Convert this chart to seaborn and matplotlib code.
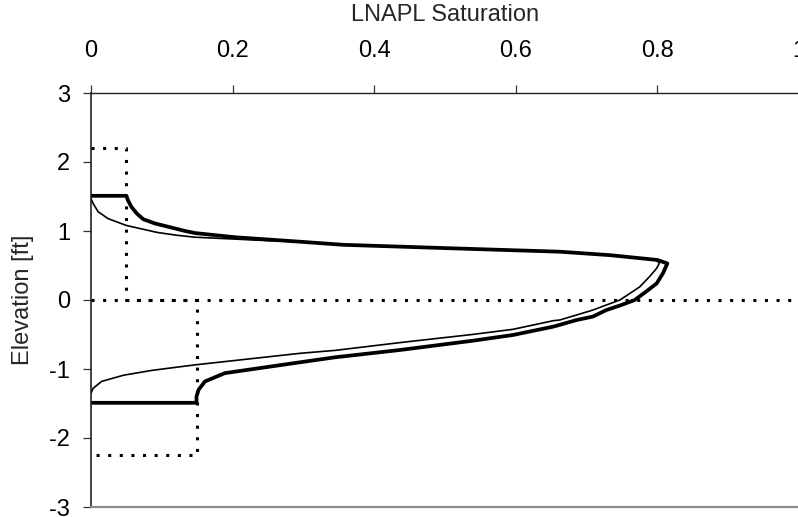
import matplotlib
matplotlib.use("Agg")
import matplotlib.pyplot as plt
import seaborn as sns
import pandas as pd

# LNAPL saturation profiles versus elevation
sat_thick = [0.0, 0.050, 0.052, 0.057, 0.065, 0.074, 0.090, 0.133, 0.147, 0.203,
             0.295, 0.356, 0.507, 0.600, 0.662, 0.733, 0.800, 0.814, 0.808, 0.799,
             0.787, 0.768, 0.747, 0.728, 0.709, 0.686, 0.662, 0.653, 0.596, 0.540,
             0.436, 0.345, 0.295, 0.189, 0.161, 0.152, 0.149, 0.149, 0.0]
elev_thick = [1.51, 1.51, 1.45, 1.35, 1.25, 1.17, 1.11, 1.00, 0.97, 0.91,
              0.845, 0.80, 0.75, 0.72, 0.70, 0.65, 0.58, 0.53, 0.39, 0.24,
              0.145, 0.0, -0.08, -0.145, -0.24, -0.29, -0.36, -0.386, -0.507, -0.589,
              -0.725, -0.83, -0.903, -1.06, -1.18, -1.30, -1.40, -1.49, -1.49]

sat_thin = [0.0, 0.003, 0.010, 0.024, 0.050, 0.076, 0.093, 0.120, 0.147, 0.250,
            0.295, 0.356, 0.507, 0.600, 0.662, 0.733, 0.795, 0.803, 0.799, 0.789,
            0.775, 0.747, 0.728, 0.709, 0.686, 0.662, 0.653, 0.596, 0.540, 0.436,
            0.345, 0.295, 0.147, 0.086, 0.046, 0.015, 0.003, 0.0]
elev_thin = [1.47, 1.40, 1.28, 1.18, 1.08, 1.02, 0.98, 0.94, 0.91, 0.86,
             0.845, 0.80, 0.75, 0.72, 0.70, 0.65, 0.59, 0.54, 0.46, 0.34,
             0.19, 0.0, -0.072, -0.145, -0.217, -0.29, -0.30, -0.425, -0.498, -0.618,
             -0.73, -0.773, -0.94, -1.02, -1.09, -1.18, -1.28, -1.35]

# Reference step profile and water table
sat_step = [0.0, 0.05, 0.05, 0.15, 0.15, 0.0]
elev_step = [2.2, 2.2, 0.0, 0.0, -2.25, -2.25]
sat_wt = [0.0, 1.0]
elev_wt = [0.0, 0.0]

x_ticks = [0, 0.2, 0.4, 0.6, 0.8, 1]
x_tick_labels = ["0", "0.2", "0.4", "0.6", "0.8", "1"]
y_ticks = [-3, -2, -1, 0, 1, 2, 3]

sns.set_theme(style="white")
plt.rcParams["font.family"] = ["Liberation Sans", "DejaVu Sans"]
plt.rcParams["axes.unicode_minus"] = False

fig = plt.figure(figsize=(7.98, 5.17), dpi=100)
ax = fig.add_axes([91 / 798, 1 - 507 / 517, 708 / 798, (507 - 93) / 517])

dot_style = (0, (1.0, 2.8))
sns.lineplot(data=pd.DataFrame({"s": sat_step, "e": elev_step}), x="s", y="e",
             sort=False, estimator=None, ax=ax, color="black", lw=2.2,
             linestyle=dot_style, dash_capstyle="butt")
sns.lineplot(data=pd.DataFrame({"s": sat_wt, "e": elev_wt}), x="s", y="e",
             sort=False, estimator=None, ax=ax, color="black", lw=2.2,
             linestyle=dot_style, dash_capstyle="butt")
sns.lineplot(data=pd.DataFrame({"s": sat_thin, "e": elev_thin}), x="s", y="e",
             sort=False, estimator=None, ax=ax, color="black", lw=1.2)
sns.lineplot(data=pd.DataFrame({"s": sat_thick, "e": elev_thick}), x="s", y="e",
             sort=False, estimator=None, ax=ax, color="black", lw=2.7)

ax.set_xlim(0, 1)
ax.set_ylim(-3, 3)
ax.xaxis.tick_top()
ax.xaxis.set_label_position("top")
ax.set_xticks(x_ticks)
ax.set_xticklabels(x_tick_labels)
ax.set_yticks(y_ticks)
ax.set_yticklabels([str(v) for v in y_ticks])

ax.set_xlabel("LNAPL Saturation", fontsize=17, labelpad=14)
ax.set_ylabel("Elevation [ft]", fontsize=17, labelpad=11)

ax.tick_params(axis="x", which="both", top=True, bottom=False, direction="out",
               length=6, width=0.9, color="#333333", labelsize=17, pad=16,
               labelcolor="black")
ax.tick_params(axis="y", which="both", left=True, direction="out",
               length=6, width=0.9, color="#333333", labelsize=17, pad=9,
               labelcolor="black")

ax.spines["right"].set_visible(False)
ax.spines["top"].set_color("#222222")
ax.spines["top"].set_linewidth(1.0)
ax.spines["left"].set_color("#222222")
ax.spines["left"].set_linewidth(1.2)
ax.spines["bottom"].set_color("#8c8c8c")
ax.spines["bottom"].set_linewidth(1.6)
ax.grid(False)

fig.savefig("out.png", dpi=100)
